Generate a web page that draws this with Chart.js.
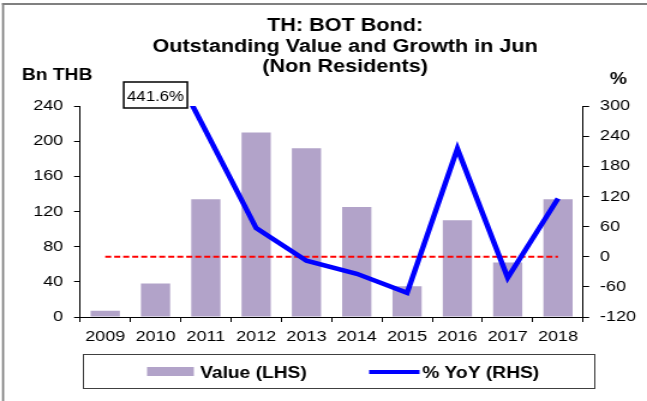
<!DOCTYPE html>
<html>
<head>
<meta charset="utf-8">
<script src="https://cdn.jsdelivr.net/npm/chart.js@4"></script>
<style>
  html, body { margin: 0; padding: 0; background: #fff; overflow: hidden; }
  #wrap { width: 539px; height: 401px; transform: scaleX(1.2004); transform-origin: 0 0; }
  #bondChart { display: block; }
</style>
</head>
<body>
<div id="wrap"><canvas id="bondChart" width="539" height="401"></canvas></div>
<script>
var years = ['2009', '2010', '2011', '2012', '2013', '2014', '2015', '2016', '2017', '2018'];
var valueBn = [7, 38, 134, 210, 192, 125, 35, 110, 62, 134];
var yoyPct = [null, 441.6, 250, 57, -8, -34, -72, 215, -42, 116];
var zeroLine = [0, 0, 0, 0, 0, 0, 0, 0, 0, 0];
var titleLines = ['TH: BOT Bond:', 'Outstanding Value and Growth in Jun', '(Non Residents)'];

// the reference is a bit stretched sideways, so the canvas is drawn narrower and widened by css
var FONT = '"Liberation Sans", Arial, sans-serif';

var decorations = {
    id: 'decorations',
    beforeDraw: function (chart) {
        var ctx = chart.ctx;
        ctx.save();
        ctx.fillStyle = '#fff';
        ctx.fillRect(0, 0, chart.width, chart.height);
        // outer frame (left + top)
        ctx.fillStyle = '#808080';
        ctx.fillRect(1.7, 3, chart.width, 2);
        ctx.fillRect(1.7, 3, 1.7, chart.height);
        ctx.restore();
    },
    afterDraw: function (chart) {
        var ctx = chart.ctx;
        ctx.save();
        ctx.fillStyle = '#000';
        ctx.textBaseline = 'alphabetic';

        // title
        ctx.font = 'bold 18px ' + FONT;
        ctx.textAlign = 'center';
        ctx.fillText(titleLines[0], 287.5, 31);
        ctx.fillText(titleLines[1], 287.5, 51.5);
        ctx.fillText(titleLines[2], 287.5, 72);

        // axis units
        ctx.font = 'bold 16px ' + FONT;
        ctx.textAlign = 'left';
        ctx.fillText('Bn THB', 18.3, 80);
        ctx.fillText('%', 508, 84);

        // call-out for the off-scale 2010 growth
        var bx = chart.scales.x.getPixelForValue(1);
        ctx.fillStyle = '#fff';
        ctx.fillRect(bx - 26.5, 82, 53, 26);
        ctx.strokeStyle = '#000';
        ctx.lineWidth = 1.5;
        ctx.strokeRect(bx - 26.5, 82, 53, 26);
        ctx.fillStyle = '#000';
        ctx.font = '14px ' + FONT;
        ctx.textAlign = 'center';
        ctx.fillText(yoyPct[1].toFixed(1) + '%', bx, 100.5);

        // legend
        ctx.lineWidth = 1;
        ctx.strokeStyle = '#404040';
        ctx.strokeRect(69.5, 354.5, 426, 34);
        ctx.fillStyle = '#b2a3c9';
        ctx.fillRect(122.5, 367, 39, 9);
        ctx.strokeStyle = '#0000ff';
        ctx.lineWidth = 4;
        ctx.beginPath();
        ctx.moveTo(307.5, 372);
        ctx.lineTo(349.5, 372);
        ctx.stroke();
        ctx.fillStyle = '#000';
        ctx.font = 'bold 16px ' + FONT;
        ctx.textAlign = 'left';
        ctx.fillText('Value (LHS)', 166.7, 378);
        ctx.fillText('% YoY (RHS)', 351.7, 378);
        ctx.restore();
    }
};

var axisGrid = {
    display: true,
    drawOnChartArea: false,
    drawTicks: true,
    tickLength: 5,
    color: '#000',
    lineWidth: 1
};

var chart = new Chart(document.getElementById('bondChart'), {
    type: 'bar',
    data: {
        labels: years,
        datasets: [{
            label: 'Value (LHS)',
            data: valueBn,
            yAxisID: 'y',
            backgroundColor: '#b2a3c9',
            borderWidth: 0,
            categoryPercentage: 1,
            barPercentage: 0.58,
            order: 3
        }, {
            type: 'line',
            label: 'zero',
            data: zeroLine,
            yAxisID: 'y1',
            borderColor: '#ff0000',
            borderWidth: 2,
            borderDash: [5, 2.5],
            pointRadius: 0,
            fill: false,
            order: 2
        }, {
            type: 'line',
            label: '% YoY (RHS)',
            data: yoyPct,
            yAxisID: 'y1',
            borderColor: '#0000ff',
            borderWidth: 4.5,
            pointRadius: 0,
            tension: 0,
            fill: false,
            order: 1
        }]
    },
    options: {
        responsive: false,
        animation: false,
        devicePixelRatio: 1,
        layout: { padding: { left: 20, right: 5, top: 106, bottom: 56 } },
        plugins: {
            legend: { display: false },
            title: { display: false },
            tooltip: { enabled: false }
        },
        scales: {
            x: {
                grid: axisGrid,
                border: { display: true, color: '#000', width: 1 },
                ticks: { color: '#000', padding: 6, font: { family: FONT, size: 15 }, maxRotation: 0 },
                afterFit: function (scale) { scale.height = 28; }
            },
            y: {
                position: 'left',
                min: 0,
                max: 240,
                grid: axisGrid,
                border: { display: true, color: '#000', width: 1 },
                ticks: { stepSize: 40, color: '#000', padding: 9, font: { family: FONT, size: 15 } },
                afterFit: function (scale) { scale.width = 46.7; }
            },
            y1: {
                position: 'right',
                min: -120,
                max: 300,
                grid: axisGrid,
                border: { display: true, color: '#000', width: 1 },
                ticks: { stepSize: 60, color: '#000', padding: 9, font: { family: FONT, size: 15 } },
                afterFit: function (scale) { scale.width = 48.2; }
            }
        }
    },
    plugins: [decorations]
});
</script>
</body>
</html>
